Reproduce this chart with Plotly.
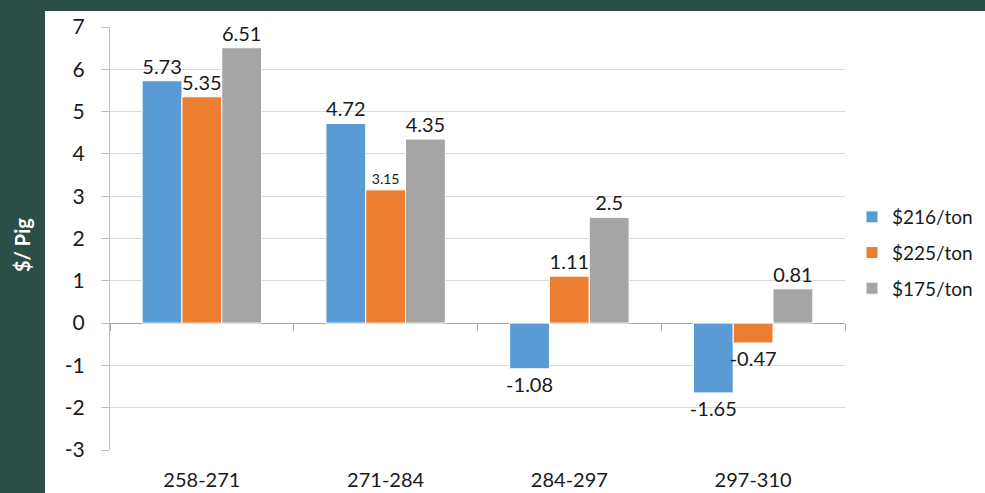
import plotly.graph_objects as go

categories = ["258-271", "271-284", "284-297", "297-310"]
series_names = ["$216/ton", "$225/ton", "$175/ton"]
blue_vals = [5.73, 4.72, -1.08, -1.65]
orange_vals = [5.35, 3.15, 1.11, -0.47]
gray_vals = [6.51, 4.35, 2.5, 0.81]
y_ticks = [-3, -2, -1, 0, 1, 2, 3, 4, 5, 6, 7]
y_tick_text = [str(v) for v in y_ticks]

colors = ["#5b9bd5", "#ed7d31", "#a5a5a5"]
FONT = "Lato"
GREEN = "#2b4f47"

fig = go.Figure()
for i, (name, vals, col) in enumerate(zip(series_names, [blue_vals, orange_vals, gray_vals], colors)):
    sizes = [14 if (name == "$225/ton" and v == 3.15) else 20 for v in vals]
    fig.add_trace(go.Bar(
        name=name, x=categories, y=vals, legendgroup=f"g{i}",
        marker=dict(color=col, line=dict(color="white", width=1)),
        text=[str(v) for v in vals], textposition="outside", cliponaxis=False,
        constraintext="none",
        textfont=dict(size=sizes, color="#1a1a1a", family=FONT),
    ))

# invisible trace to host tick marks along zero line
fig.add_trace(go.Scatter(x=[], y=[], xaxis="x2", showlegend=False, hoverinfo="skip"))

W, H = 985, 493
L, R, T, B = 110, 140, 27, 43
pw, ph = W - L - R, H - T - B

def px(x):
    return (x - L) / pw

def py(y):
    return (H - B - y) / ph

fig.add_shape(type="rect", xref="paper", yref="paper", x0=px(45), x1=px(W + 200),
              y0=py(H + 200), y1=py(11), fillcolor="white", line=dict(width=0), layer="below")

fig.add_annotation(text="<b>$/ Pig</b>", xref="paper", yref="paper", x=px(22), y=py(245),
                   xanchor="center", yanchor="middle",
                   textangle=-90, showarrow=False, font=dict(color="white", size=20, family=FONT))

fig.update_layout(
    width=W, height=H, margin=dict(l=L, r=R, t=T, b=B, autoexpand=False),
    paper_bgcolor=GREEN, plot_bgcolor="white",
    barmode="group", bargap=0.35, bargroupgap=0,
    font=dict(family=FONT, size=20, color="#1a1a1a"),
    xaxis=dict(showgrid=False, showline=False, ticks="", tickfont=dict(size=20),
               ticklabelstandoff=16, zeroline=False),
    xaxis2=dict(overlaying="x", anchor="free", position=0.3, range=[-0.5, 3.5],
                tickmode="array", tickvals=[-0.5, 0.5, 1.5, 2.5, 3.5], ticks="outside",
                ticklen=7, tickcolor="#a6a6a6", showticklabels=False, showgrid=False,
                showline=False, zeroline=False),
    yaxis=dict(range=[-3, 7], tickvals=y_ticks, ticktext=y_tick_text,
               showgrid=True, gridcolor="#d9d9d9",
               zeroline=True, zerolinecolor="#a6a6a6", zerolinewidth=1,
               showline=True, linecolor="#bfbfbf", ticks="outside", ticklen=8,
               tickcolor="#bfbfbf", tickfont=dict(size=21), ticklabelstandoff=12),
    legend=dict(x=px(852), y=py(253), xanchor="left", yanchor="middle",
                font=dict(size=19), bgcolor="rgba(0,0,0,0)", itemwidth=30,
                traceorder="grouped", tracegroupgap=8),
    showlegend=True,
)

fig.write_html("out.html")
